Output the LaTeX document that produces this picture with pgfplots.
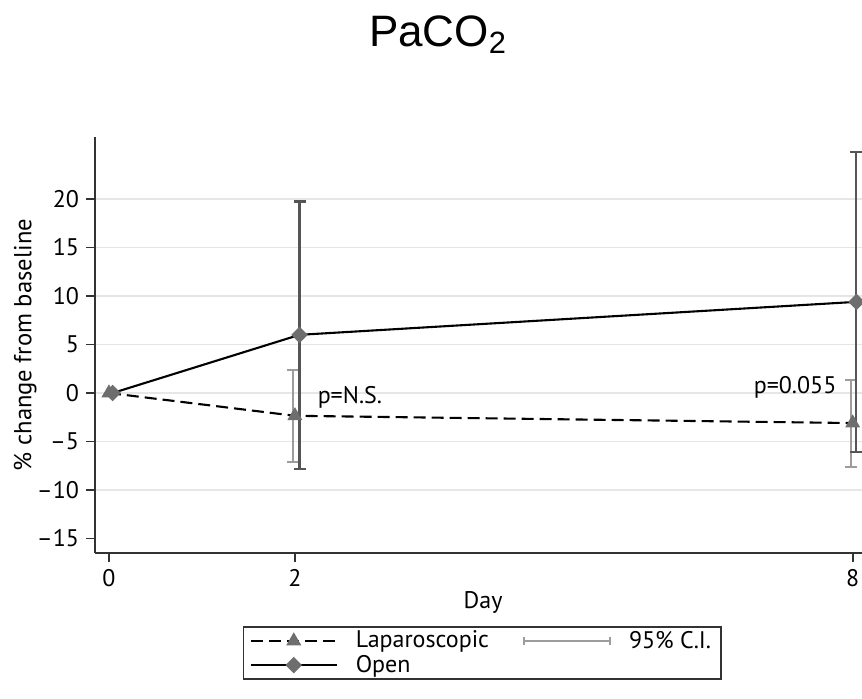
\documentclass[border=0pt]{standalone}
\usepackage{pgfplots}
\pgfplotsset{compat=1.18}
\usepackage{fontspec}
\setmainfont{PT Sans}
\newfontfamily\titlefont{Liberation Sans}
\definecolor{axisGray}{HTML}{333333}
\definecolor{gridGray}{HTML}{E6E6E6}
\definecolor{markGray}{HTML}{6E6E6E}
\definecolor{ciDark}{HTML}{555555}
\definecolor{ciLight}{HTML}{9C9C9C}
\newcommand{\lblfont}{\fontsize{12}{13}\selectfont}
\begin{document}
\begin{tikzpicture}
\begin{axis}[
  at={(0pt,0pt)}, anchor=south west,
  scale only axis, width=383.5pt, height=208pt,
  xmin=-0.15, xmax=8.1, ymin=-16.5, ymax=26.4,
  clip=false,
  axis lines*=left,
  axis line style={draw=axisGray, line width=0.9pt},
  tick align=outside, major tick length=4.5pt,
  tick style={draw=axisGray, line width=0.9pt},
  xtick={0,2,8},
  ytick={-10,-5,0,5,10,15,20},
  yticklabels={--10,--5,0,5,10,15,20},
  extra y ticks={-15}, extra y tick labels={--15},
  extra y tick style={grid=none},
  ymajorgrids, grid style={draw=gridGray, line width=0.9pt},
  /pgf/number format/assume math mode=true,
  tick label style={font=\lblfont},
  xlabel={Day}, ylabel={\% change from baseline},
  every axis x label/.style={at={(axis description cs:0.506,0)}, yshift=-24.5pt,
    anchor=center, font=\lblfont},
  every axis y label/.style={at={(axis description cs:-0.091,0.5)}, rotate=90,
    anchor=center, font=\fontsize{12.3}{13}\selectfont},
  legend columns=2,
  legend cell align=left,
  legend image code/.code={\draw[#1, mark repeat=2, mark phase=2]
    plot coordinates {(0pt,0pt) (21.5pt,0pt) (43pt,0pt)};},
  legend style={at={(0.193,-0.176)}, anchor=north west, draw=axisGray,
    line width=0.7pt, font=\lblfont,
    inner xsep=3pt, inner ysep=0pt, row sep=-2pt,
    /tikz/every odd column/.append style={column sep=7pt},
    /tikz/every even column/.append style={column sep=15pt}},
]
% confidence intervals
\addplot[draw=none, forget plot, error bars/.cd, y dir=both, y explicit,
  error bar style={draw=ciLight, line width=1pt, solid},
  error mark options={rotate=90, mark size=3pt, draw=ciLight, line width=1pt}]
  coordinates {(1.985,-2.35) += (0,4.75) -= (0,4.75) (7.985,-3.1) += (0,4.45) -= (0,4.5)};
\addplot[draw=none, forget plot, error bars/.cd, y dir=both, y explicit,
  error bar style={draw=ciDark, line width=1.05pt, solid},
  error mark options={rotate=90, mark size=3pt, draw=ciDark, line width=1.05pt}]
  coordinates {(2.05,6.0) += (0,13.75) -= (0,13.8) (8.04,9.4) += (0,15.5) -= (0,15.45)};
% means
\addplot[black, line width=1.05pt, dash pattern=on 6pt off 3pt, forget plot,
  mark=triangle*, mark size=3.3pt, mark options={solid, fill=markGray, draw=markGray}]
  coordinates {(0,0) (2,-2.35) (8,-3.1)};
\addplot[black, line width=1.05pt, forget plot,
  mark=square*, mark size=2.4pt, mark options={rotate=45, fill=markGray, draw=markGray}]
  coordinates {(0.04,0) (2.05,6.0) (8.04,9.4)};
\node[anchor=west, font=\lblfont] at (axis cs:2.17,-0.4) {p=N.S.};
\node[anchor=east, font=\lblfont] at (axis cs:7.9,0.6) {p=0.055};
% legend
\addlegendimage{black, line width=1.05pt, dash pattern=on 6pt off 3pt,
  mark=triangle*, mark size=3.3pt, mark options={solid, fill=markGray, draw=markGray}}
\addlegendentry{Laparoscopic}
\addlegendimage{legend image code/.code={\draw[ciLight, line width=1pt]
    (0pt,-2pt) -- (0pt,2pt) (0pt,0pt) -- (43pt,0pt) (43pt,-2pt) -- (43pt,2pt);}}
\addlegendentry{95\% C.I.\hspace{9pt}}
\addlegendimage{black, line width=1.05pt,
  mark=square*, mark size=2.4pt, mark options={rotate=45, fill=markGray, draw=markGray}}
\addlegendentry{Open\rule[-24pt]{0pt}{1pt}}
\end{axis}
\node[font=\titlefont\fontsize{22}{26}\selectfont] at (171.5pt,259pt) {PaCO\textsubscript{2}};
\pgfresetboundingbox
\useasboundingbox (-47.5pt,-72.5pt) rectangle (383.5pt,276.5pt);
\end{tikzpicture}
\end{document}
